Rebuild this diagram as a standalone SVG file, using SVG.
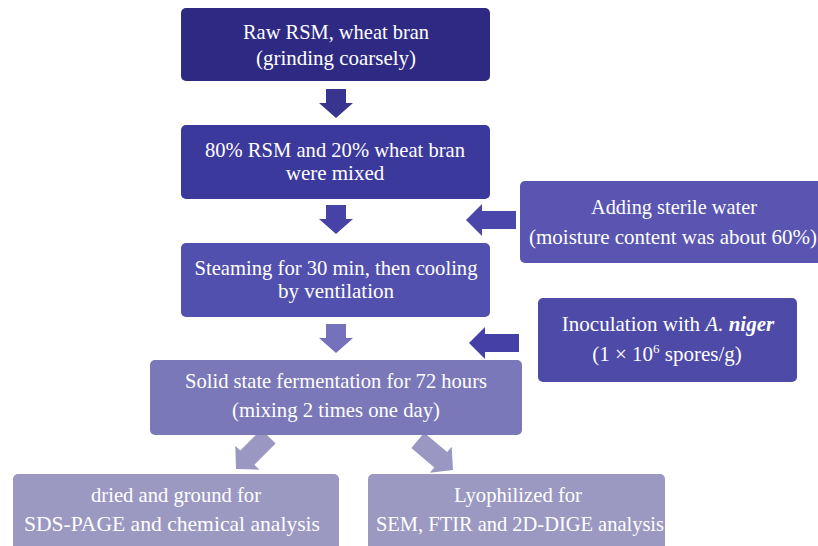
<svg xmlns="http://www.w3.org/2000/svg" width="818" height="546" viewBox="0 0 818 546">
<style>
.s{font-family:'Liberation Serif','Times New Roman',serif;font-size:21px;fill:#ffffff;text-anchor:middle}
</style>
<defs>
<path id="dn" d="M -10,-29 L 10,-29 L 10,-15 L 17,-15 L 0,0 L -17,-15 L -10,-15 Z"/>
<path id="lf" d="M -9,-50 L 9,-50 L 9,-16 L 16,-16 L 0,0 L -16,-16 L -9,-16 Z"/>
<path id="dg" d="M -10,-46 L 10,-46 L 10,-16 L 17,-16 L 0,0 L -17,-16 L -10,-16 Z"/>
</defs>
<rect width="818" height="546" fill="#ffffff"/>
<g id="connectors">
<use href="#dn" transform="translate(336,118)" fill="#38348f"/>
<use href="#dn" transform="translate(336,234)" fill="#4743a6"/>
<use href="#dn" transform="translate(336,353)" fill="#7571bc"/>
<use href="#lf" transform="translate(466,220) rotate(90)" fill="#4b47aa"/>
<use href="#lf" transform="translate(469,343) rotate(90)" fill="#4440a6"/>
<use href="#dg" transform="translate(236,469) rotate(45)" fill="#9a98c3"/>
<use href="#dg" transform="translate(453,470) rotate(-50)" fill="#9a98c3"/>
</g>
<g id="n1">
<rect x="181" y="8" width="309" height="73" rx="5" fill="#2e2a84"/>
<text class="s" x="336" y="39" textLength="186" lengthAdjust="spacingAndGlyphs">Raw RSM, wheat bran</text>
<text class="s" x="336" y="65" textLength="160" lengthAdjust="spacingAndGlyphs">(grinding coarsely)</text>
</g>
<g id="n2">
<rect x="181" y="125" width="309" height="74" rx="5" fill="#3c399c"/>
<text class="s" x="335" y="157" textLength="260" lengthAdjust="spacingAndGlyphs">80% RSM and 20% wheat bran</text>
<text class="s" x="335" y="180">were mixed</text>
</g>
<g id="n3">
<rect x="181" y="243" width="309" height="74" rx="5" fill="#5250ae"/>
<text class="s" x="336" y="275" textLength="283" lengthAdjust="spacingAndGlyphs">Steaming for 30 min, then cooling</text>
<text class="s" x="336" y="298">by ventilation</text>
</g>
<g id="n4">
<rect x="150" y="360" width="372" height="75" rx="5" fill="#7a78b8"/>
<text class="s" x="336" y="388" textLength="302" lengthAdjust="spacingAndGlyphs">Solid state fermentation for 72 hours</text>
<text class="s" x="336" y="417" textLength="208" lengthAdjust="spacingAndGlyphs">(mixing 2 times one day)</text>
</g>
<g id="nA">
<rect x="520" y="181" width="303" height="82" rx="5" fill="#5955b0"/>
<text class="s" x="674" y="214" textLength="166" lengthAdjust="spacingAndGlyphs">Adding sterile water</text>
<text class="s" x="673" y="244" textLength="288" lengthAdjust="spacingAndGlyphs">(moisture content was  about 60%)</text>
</g>
<g id="nB">
<rect x="538" y="298" width="259" height="84" rx="5" fill="#4e4aa7"/>
<text class="s" x="668" y="331">Inoculation with <tspan font-style="italic">A.</tspan> <tspan font-style="italic" font-weight="bold">niger</tspan></text>
<text class="s" x="667" y="361">(1 × 10<tspan font-size="13" dy="-8">6</tspan><tspan dy="8"> spores/g)</tspan></text>
</g>
<g id="nL">
<rect x="13" y="474" width="326" height="80" rx="5" fill="#9b99c2"/>
<text class="s" x="176" y="502" textLength="170" lengthAdjust="spacingAndGlyphs">dried and ground for</text>
<text class="s" x="172" y="531" textLength="296" lengthAdjust="spacingAndGlyphs">SDS-PAGE and chemical analysis</text>
</g>
<g id="nR">
<rect x="368" y="474" width="297" height="80" rx="5" fill="#9b99c2"/>
<text class="s" x="518" y="502" textLength="128" lengthAdjust="spacingAndGlyphs">Lyophilized for</text>
<text class="s" x="520" y="531" textLength="288" lengthAdjust="spacingAndGlyphs">SEM, FTIR and 2D-DIGE analysis</text>
</g>
</svg>
